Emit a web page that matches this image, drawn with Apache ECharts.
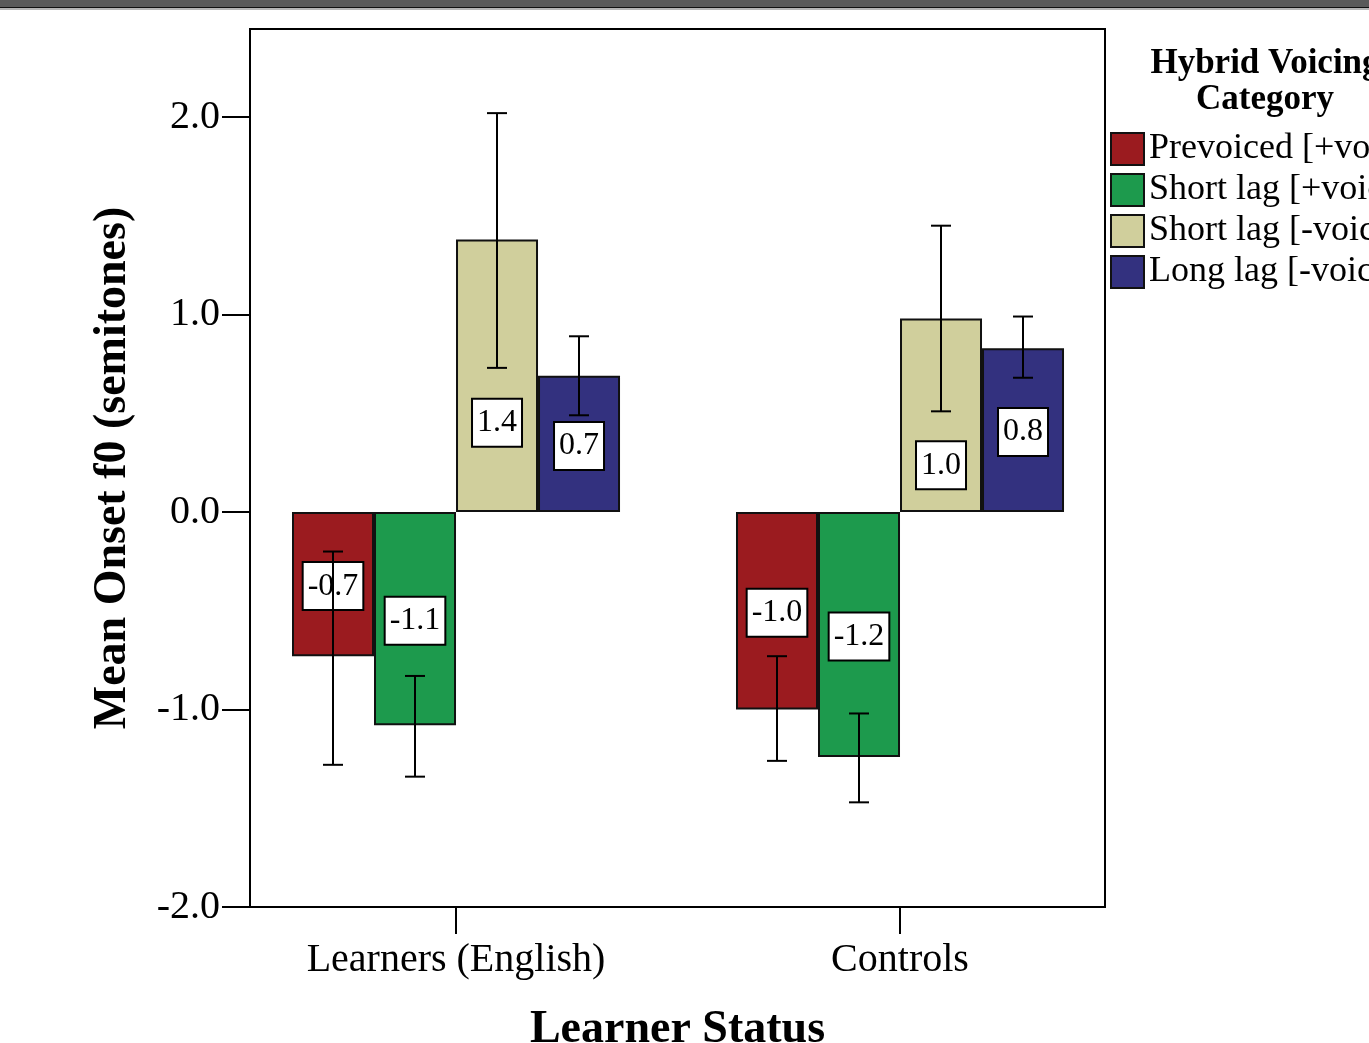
<!DOCTYPE html>
<html>
<head>
<meta charset="utf-8">
<title>Mean Onset f0 by Learner Status</title>
<script src="https://cdn.jsdelivr.net/npm/echarts@6/dist/echarts.min.js"></script>
<style>
  html, body { margin: 0; padding: 0; background: #fff; }
  #chart { width: 1369px; height: 1043px; }
</style>
</head>
<body>
<div id="chart"></div>
<script>
// Groups along the x axis
const categories = ['Learners (English)', 'Controls'];

// Voicing categories (legend order)
const seriesNames = ['Prevoiced [+voice]', 'Short lag [+voice]', 'Short lag [-voice]', 'Long lag [-voice]'];

// Mean onset f0 (semitones) per group
const prevoiced     = [-0.73, -1.00];
const shortLagVoice = [-1.08, -1.24];
const shortLagVless = [1.38, 0.98];
const longLag       = [0.69, 0.83];

// Error bar ends (lower, upper) per group
const prevoicedErr     = [[-1.28, -0.20], [-1.26, -0.73]];
const shortLagVoiceErr = [[-1.34, -0.83], [-1.47, -1.02]];
const shortLagVlessErr = [[0.73, 2.02], [0.51, 1.45]];
const longLagErr       = [[0.49, 0.89], [0.68, 0.99]];

// Y axis tick values
const yTicks = [-2, -1, 0, 1, 2];

const seriesValues = [prevoiced, shortLagVoice, shortLagVless, longLag];
const seriesErrors = [prevoicedErr, shortLagVoiceErr, shortLagVlessErr, longLagErr];
const colors = ['#9b1b1f', '#1d9a4d', '#d0cf9c', '#33317f'];

const FONT = 'Liberation Serif';
const BAR_FRACTION = 0.1847;          // each bar's share of the group spacing
// Value labels that sit below the bar middle to stay clear of the whiskers
const labelNudge = { 2: [47, 50] };

const barSeries = seriesValues.map((vals, si) => ({
  name: seriesNames[si],
  type: 'bar',
  z: 2,
  barWidth: (BAR_FRACTION * 100) + '%',
  barGap: '0%',
  itemStyle: { color: colors[si], borderColor: '#111', borderWidth: 2 },
  data: vals.map((v, gi) => ({
    value: [gi, v],
    label: { offset: [0, labelNudge[si] ? labelNudge[si][gi] : 2] }
  })),
  label: {
    show: true,
    position: 'inside',
    formatter: p => p.value[1].toFixed(1),
    fontFamily: FONT,
    fontSize: 32,
    color: '#000',
    backgroundColor: '#fff',
    borderColor: '#000',
    borderWidth: 2,
    padding: [7, 4, 7, 4]
  },
  emphasis: { disabled: true }
}));

const errSeries = seriesErrors.map((errs, si) => ({
  type: 'custom',
  z: 5,
  silent: true,
  clip: false,
  data: errs.map((e, gi) => [gi, e[0], e[1]]),
  renderItem: (params, api) => {
    const band = api.size([1, 0])[0];
    const dx = (si - 1.5) * band * BAR_FRACTION;
    const lo = api.coord([api.value(0), api.value(1)]);
    const hi = api.coord([api.value(0), api.value(2)]);
    const x = lo[0] + dx;
    const cap = 10;
    const style = { stroke: '#000', lineWidth: 2 };
    return {
      type: 'group',
      children: [
        { type: 'line', shape: { x1: x, y1: lo[1], x2: x, y2: hi[1] }, style },
        { type: 'line', shape: { x1: x - cap, y1: lo[1], x2: x + cap, y2: lo[1] }, style },
        { type: 'line', shape: { x1: x - cap, y1: hi[1], x2: x + cap, y2: hi[1] }, style }
      ]
    };
  }
}));

const chart = echarts.init(document.getElementById('chart'));
chart.setOption({
  animation: false,
  backgroundColor: '#fff',
  textStyle: { fontFamily: FONT },
  grid: {
    left: 250, top: 29, width: 855, height: 878,
    outerBoundsMode: 'none',
    containLabel: false,
    show: true, borderColor: '#000', borderWidth: 2, backgroundColor: 'transparent'
  },
  xAxis: {
    type: 'value',
    min: -0.464,
    max: 1.4617,
    name: 'Learner Status',
    nameLocation: 'middle',
    nameGap: 100,
    nameTextStyle: { fontFamily: FONT, fontSize: 46, fontWeight: 'bold', color: '#000' },
    axisLine: { show: true, onZero: false, lineStyle: { color: '#000', width: 2 } },
    axisTick: {
      show: true, length: 27, customValues: [0, 1],
      lineStyle: { color: '#000', width: 2 }
    },
    axisLabel: {
      customValues: [0, 1],
      formatter: v => categories[Math.round(v)],
      fontFamily: FONT, fontSize: 40, color: '#000', margin: 33
    },
    splitLine: { show: false }
  },
  yAxis: {
    type: 'value',
    min: -2,
    max: 2.446,
    name: 'Mean Onset f0 (semitones)',
    nameLocation: 'middle',
    nameGap: 114,
    nameTextStyle: { fontFamily: FONT, fontSize: 46, fontWeight: 'bold', color: '#000' },
    axisLine: { show: true, onZero: false, lineStyle: { color: '#000', width: 2 } },
    axisTick: {
      show: true, length: 28, customValues: yTicks,
      lineStyle: { color: '#000', width: 2 }
    },
    axisLabel: {
      customValues: yTicks,
      formatter: v => v.toFixed(1),
      fontFamily: FONT, fontSize: 40, color: '#000', margin: 30
    },
    splitLine: { show: false }
  },
  legend: {
    orient: 'vertical',
    left: 1110,
    top: 131,
    padding: 0,
    itemWidth: 33,
    itemHeight: 32,
    itemGap: 5,
    itemTextGap: 6,
    icon: 'rect',
    selectedMode: false,
    data: seriesNames,
    textStyle: { fontFamily: FONT, fontSize: 36, color: '#000' }
  },
  graphic: [
    { type: 'rect', left: 0, top: 0, shape: { width: 1369, height: 7 }, style: { fill: '#5a5a5a' } },
    { type: 'rect', left: 0, top: 7, shape: { width: 1369, height: 1 }, style: { fill: '#111' } },
    { type: 'rect', left: 0, top: 8, shape: { width: 1369, height: 2 }, style: { fill: '#b5b5b5' } },
    {
      type: 'text', x: 1265, y: 46,
      style: {
        text: 'Hybrid Voicing\nCategory',
        fontFamily: FONT, fontSize: 35, fontWeight: 'bold', fill: '#000',
        align: 'center', lineHeight: 36
      }
    }
  ],
  series: barSeries.concat(errSeries)
});
</script>
</body>
</html>
